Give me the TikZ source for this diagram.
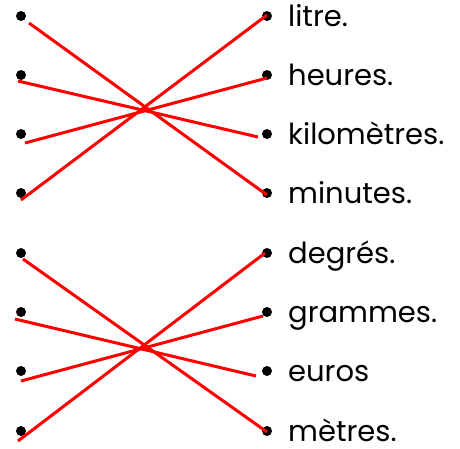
\documentclass[tikz,border=0pt]{standalone}
\usepackage{fontspec}
\setmainfont{Poppins}
\usetikzlibrary{calc, positioning}

\begin{document}
\begin{tikzpicture}[x=1pt, y=-1pt,
    dot/.style={circle, fill=black, inner sep=0pt, minimum size=10pt},
    link/.style={red, line width=3pt},
    word/.style={anchor=base west, inner sep=0pt, font=\fontsize{29}{34}\selectfont}]
  \useasboundingbox (0,0) rectangle (460,448);
  % dots on both sides and the words
  \foreach \i/\y/\w in {1/16/litre., 2/75/heures., 3/134/kilomètres., 4/193/minutes.,
                        5/253/degrés., 6/312/grammes., 7/371/euros, 8/431/mètres.} {
    \node[dot] (l\i) at (21,\y) {};
    \node[dot] (r\i) at (267,\y) {};
    \node[word] (w\i) at (288,\y+10.5) {\w};
  }
  % matching lines
  \foreach \a/\da/\b/\db in {1/{8,7}/4/{0,2}, 2/{-3,6}/3/{-9,3}, 3/{4,9}/2/{0,3}, 4/{0,7}/1/{0,-1},
                             5/{2,6}/8/{0,1}, 6/{-6,7}/7/{-11,5}, 7/{0,10}/6/{-4,4}, 8/{-3,10}/5/{-2,0}}
    \draw[link] ([shift={(\da)}]l\a.center) -- ([shift={(\db)}]r\b.center);
\end{tikzpicture}
\end{document}
